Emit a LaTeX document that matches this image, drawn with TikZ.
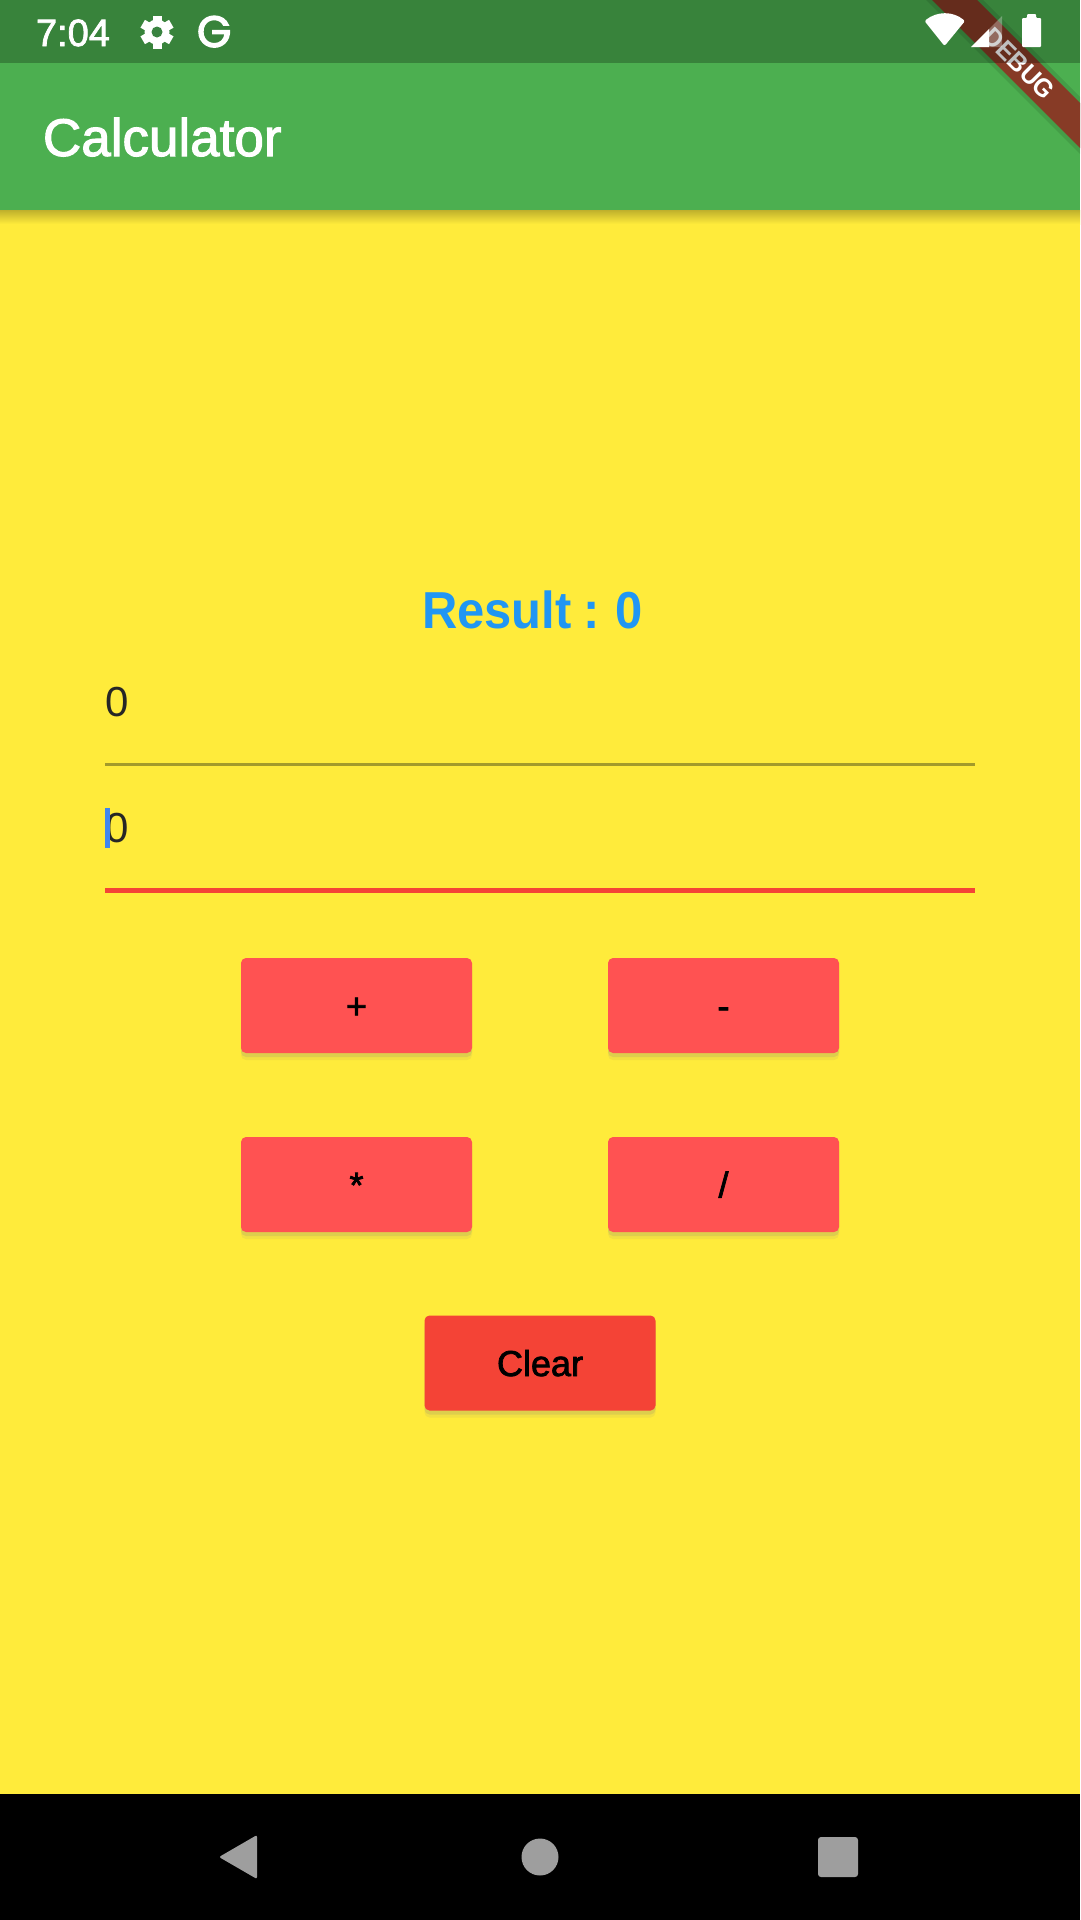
\documentclass[tikz,border=0pt]{standalone}
\usepackage{fontspec}
\usepackage{xcolor}
\usepackage{tikz}
\usetikzlibrary{positioning, shadows, shapes.geometric}
\setmainfont{Liberation Sans}
\newfontfamily\medfont[FakeBold=2]{Liberation Sans}
\newfontfamily\gfont[FakeBold=3]{Poppins}
\newfontfamily\resfont[FakeStretch=0.94, WordSpace=0.85]{Liberation Sans}

\definecolor{pagebg}{HTML}{FFEB3B}
\definecolor{barcol}{HTML}{4CAF50}
\definecolor{statuscol}{HTML}{398340}
\definecolor{btncol}{HTML}{FF5252}
\definecolor{clearcol}{HTML}{F44336}
\definecolor{resultcol}{HTML}{2196F3}
\definecolor{navcol}{HTML}{9E9E9E}
\definecolor{ribboncol}{HTML}{873B26}
\definecolor{cursorcol}{HTML}{3F86F0}
\definecolor{fieldcol}{HTML}{A39A2A}

\begin{document}
\begin{tikzpicture}[
          x=1pt, y=-1pt,
          node distance=84pt and 136pt,
          every node/.style={inner sep=0pt, outer sep=0pt},
          calcbtn/.style={rectangle, fill=btncol, rounded corners=5pt,
            minimum width=231pt, minimum height=95pt, text=black,
            text height=26pt, text depth=0pt,
            font=\medfont\fontsize{36}{40}\selectfont,
            drop shadow={opacity=0.10, shadow xshift=0pt, shadow yshift=-7pt},
            drop shadow={opacity=0.18, shadow xshift=0pt, shadow yshift=-4pt}},
          fieldtext/.style={anchor=base west, text=black!85, font=\fontsize{42}{48}\selectfont},
          statustext/.style={anchor=base west, text=white}
        ]
          \useasboundingbox (0,0) rectangle (1080,1920);
          % page and bars
          \fill[pagebg] (0,0) rectangle (1080,1920);
          \shade[top color=black!25!pagebg, bottom color=pagebg] (0,210) rectangle (1080,224);
          \fill[barcol] (0,0) rectangle (1080,210);
          \fill[black] (0,1794) rectangle (1080,1920);

          \node[statustext, font=\medfont\fontsize{53}{60}\selectfont] (title) at (43,156) {Calculator};

          % debug ribbon
          \fill[black, opacity=0.10] (926,0) -- (983,0) -- (1080,97) -- (1080,154) -- cycle;
          \fill[ribboncol] (932,0) -- (977,0) -- (1080,103) -- (1080,148) -- cycle;
          \node[text=white, rotate=-45, font=\resfont\bfseries\fontsize{26}{30}\selectfont] (debug) at (1019.5,63.5) {DEBUG};
          \fill[black, opacity=0.25] (0,0) rectangle (1080,63);

          % status icons
          \node[statustext, font=\medfont\fontsize{38}{44}\selectfont] (clock) at (36,46) {7:04};
          \fill[white] (157,32) circle (12.5);
          \foreach \a in {0,60,...,300}
            \fill[white, rotate around={\a:(157,32)}] (152.5,15.5) rectangle (161.5,24);
          \fill[statuscol] (157,32) circle (5.5);
          \node[statustext, font=\gfont\fontsize{44}{50}\selectfont] (gicon) at (197,47) {G};
          \fill[white, rounded corners=2pt] (944.5,46) -- (924.5,21) .. controls (937,11) and (953,11) .. (965,21) -- cycle;
          \fill[white, opacity=0.3] (971,47) -- (1002,16) -- (1002,47) -- cycle;
          \fill[white] (971,47) -- (989,29) -- (989,47) -- cycle;
          \fill[white, rounded corners=1pt] (1022,18) -- (1027,18) -- (1027,14) -- (1036,14) -- (1036,18) -- (1041,18) -- (1041,47) -- (1022,47) -- cycle;

          % result and fields
          \node[anchor=base, text=resultcol, font=\resfont\bfseries\fontsize{52}{56}\selectfont] (result) at (532.5,628) {Result : 0};
          \node[fieldtext] (first) at (105,716) {0};
          \coordinate (firstl) at (105,764);
          \coordinate (firstr) at (975,764);
          \draw[fieldcol, line width=3pt] (firstl) -- (firstr);
          \node[fieldtext] (second) at (105,842) {0};
          \fill[cursorcol] (105,808) rectangle (110,848);
          \coordinate (secondl) at (105,890.5);
          \coordinate (secondr) at (975,890.5);
          \draw[clearcol, line width=5pt] (secondl) -- (secondr);

          % buttons
          \node[calcbtn] (plus) at (356.5,1005.5) {+};
          \node[calcbtn, right=of plus] (minus) {-};
          \node[calcbtn, below=of plus] (times) {*};
          \node[calcbtn, right=of times] (divide) {/};
          \node[calcbtn, fill=clearcol] (clear) at (540,1363) {Clear};

          % navigation keys
          \fill[navcol, rounded corners=2pt] (219,1857) -- (257,1835) -- (257,1879) -- cycle;
          \fill[navcol] (540,1857) circle (18.5);
          \fill[navcol, rounded corners=3pt] (818,1837) rectangle (858,1877);
        \end{tikzpicture}
\end{document}
